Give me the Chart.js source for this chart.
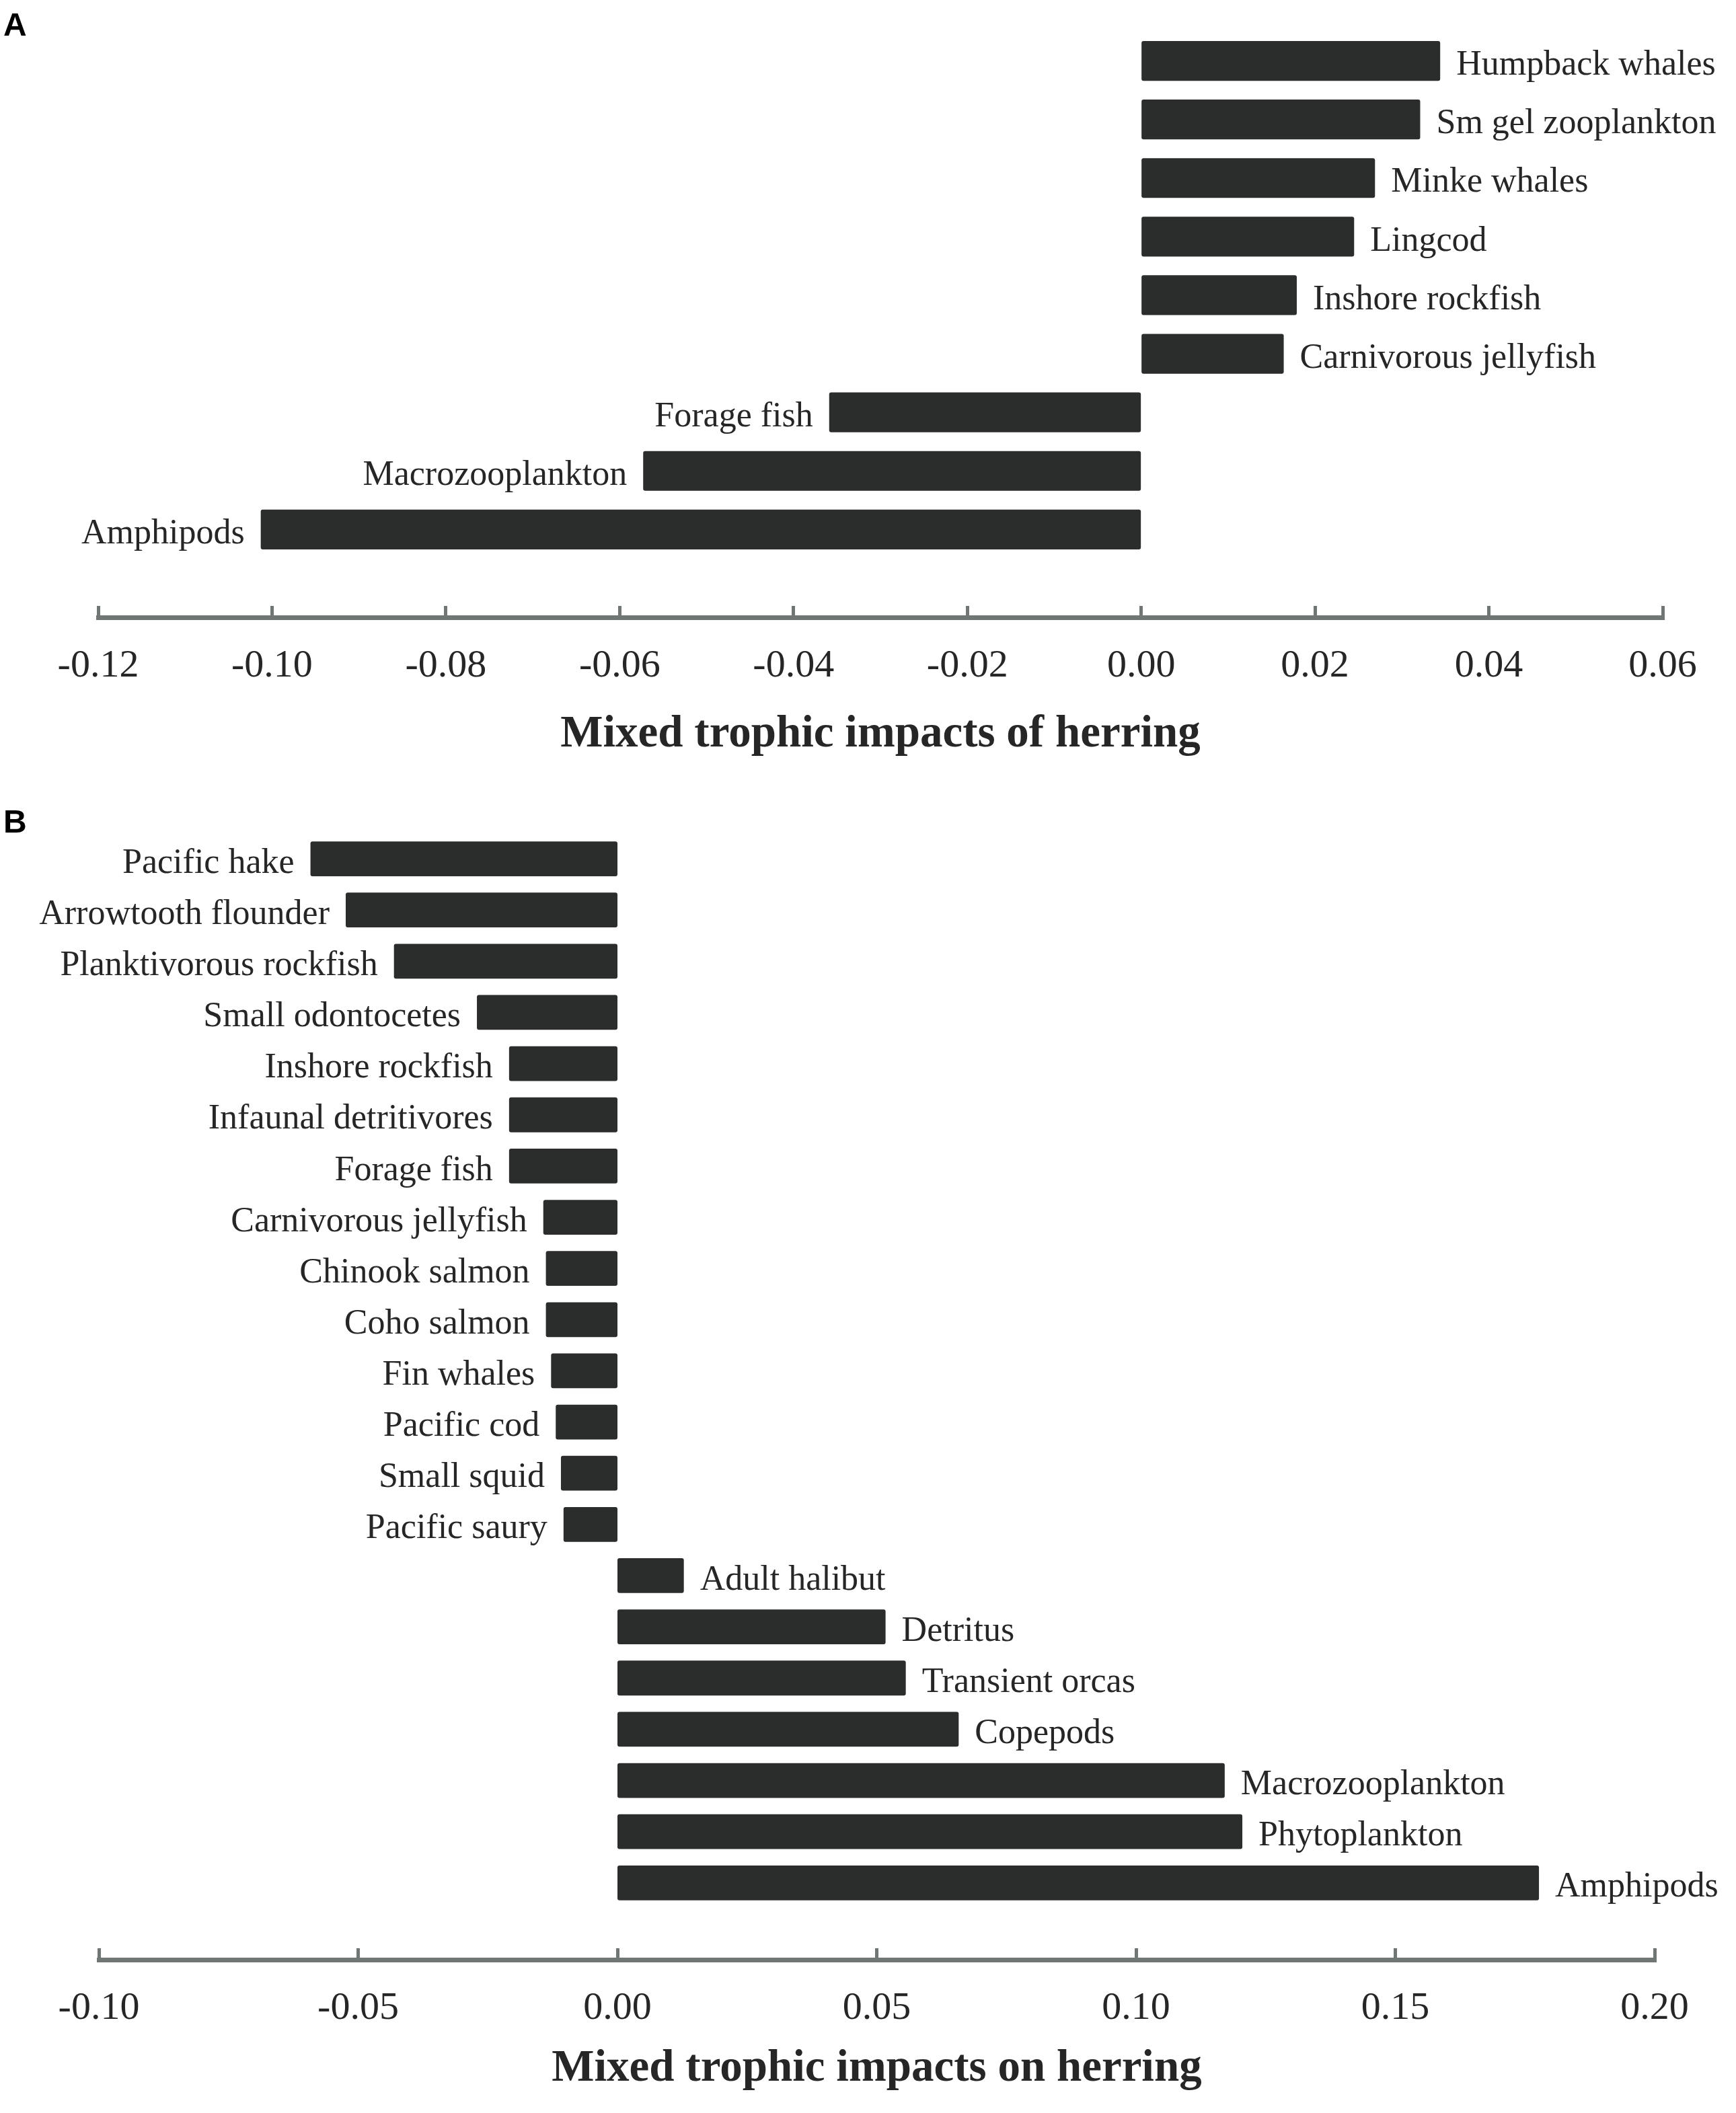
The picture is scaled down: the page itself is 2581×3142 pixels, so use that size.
<!DOCTYPE html>
<html>
<head>
<meta charset="utf-8">
<script src="https://cdn.jsdelivr.net/npm/chart.js@4.4.1/dist/chart.umd.min.js"></script>
<style>
  html, body { margin: 0; padding: 0; background: #fff; }
  #wrap { position: relative; width: 2581px; height: 3142px; }
  canvas { position: absolute; left: 0; }
  #chartA { top: 0; }
  #chartB { top: 1160px; }
</style>
</head>
<body>
<div id="wrap">
  <canvas id="chartA" width="2581" height="1160"></canvas>
  <canvas id="chartB" width="2581" height="1982"></canvas>
</div>
<script>
// Panel A: impacts of herring on other groups
const groupsA = ["Humpback whales", "Sm gel zooplankton", "Minke whales", "Lingcod",
  "Inshore rockfish", "Carnivorous jellyfish", "Forage fish", "Macrozooplankton", "Amphipods"];
const impactsA = [0.0344, 0.0321, 0.0269, 0.0245, 0.0179, 0.0164, -0.0359, -0.0573, -0.1013];
const ticksA = { min: -0.12, max: 0.06, step: 0.02 };

// Panel B: impacts of other groups on herring
const groupsB = ["Pacific hake", "Arrowtooth flounder", "Planktivorous rockfish", "Small odontocetes",
  "Inshore rockfish", "Infaunal detritivores", "Forage fish", "Carnivorous jellyfish",
  "Chinook salmon", "Coho salmon", "Fin whales", "Pacific cod", "Small squid", "Pacific saury",
  "Adult halibut", "Detritus", "Transient orcas", "Copepods", "Macrozooplankton",
  "Phytoplankton", "Amphipods"];
const impactsB = [-0.0592, -0.0524, -0.0431, -0.0271, -0.0209, -0.0209, -0.0209, -0.0143,
  -0.0138, -0.0138, -0.0128, -0.0119, -0.0109, -0.0104,
  0.0128, 0.0517, 0.0556, 0.0658, 0.1171, 0.1205, 0.1777];
const ticksB = { min: -0.10, max: 0.20, step: 0.05 };

const BAR = "#2b2d2d";
const AXIS = "#707674";
const TEXT = "#262626";
const SERIF = "'Liberation Serif', 'Times New Roman', serif";

// writes the group name next to the end of each bar
const barLabels = {
  id: "barLabels",
  afterDatasetsDraw(chart, args, opts) {
    const ctx = chart.ctx;
    const meta = chart.getDatasetMeta(0);
    const values = chart.data.datasets[0].data;
    ctx.save();
    ctx.font = "52px " + SERIF;
    ctx.fillStyle = TEXT;
    ctx.textBaseline = "middle";
    meta.data.forEach((bar, i) => {
      const v = values[i].x;
      const name = opts.names[i];
      if (v >= 0) {
        ctx.textAlign = "left";
        ctx.fillText(name, bar.x + 24, bar.y + 7);
      } else {
        ctx.textAlign = "right";
        ctx.fillText(name, bar.x - 24, bar.y + 7);
      }
    });
    // panel letter
    ctx.font = "bold 48px 'Liberation Sans', Arial, sans-serif";
    ctx.fillStyle = "#000";
    ctx.textAlign = "left";
    ctx.textBaseline = "alphabetic";
    ctx.fillText(opts.letter, 5, opts.letterY);
    ctx.restore();
  }
};

function makeChart(id, names, values, range, title, pad, axisHeight, titlePad, letterY) {
  return new Chart(document.getElementById(id), {
    type: "bar",
    data: {
      datasets: [{
        data: values.map((v, i) => ({ x: v, y: i })),
        backgroundColor: BAR,
        borderRadius: 3,
        borderSkipped: false,
        barPercentage: 0.68,
        categoryPercentage: 1
      }]
    },
    plugins: [barLabels],
    options: {
      indexAxis: "y",
      responsive: false,
      animation: false,
      layout: { padding: pad },
      plugins: {
        legend: { display: false },
        tooltip: { enabled: false },
        barLabels: { names: names, letter: id === "chartA" ? "A" : "B", letterY: letterY }
      },
      scales: {
        y: {
          type: "linear",
          display: false,
          reverse: true,
          offset: false,
          min: -0.5,
          max: names.length + 0.5,
          // one tick per group so the bar width follows the group spacing
          afterBuildTicks: scale => { scale.ticks = names.map((n, i) => ({ value: i })); }
        },
        x: {
          type: "linear",
          min: range.min,
          max: range.max,
          border: { display: true, color: AXIS, width: 7 },
          grid: {
            drawOnChartArea: false,
            drawTicks: true,
            tickLength: -17,
            tickWidth: 5,
            color: AXIS
          },
          ticks: {
            stepSize: range.step,
            padding: 55,
            color: TEXT,
            font: { family: SERIF, size: 58 },
            maxRotation: 0,
            callback: v => Math.abs(v) < 1e-9 ? "0.00" : v.toFixed(2)
          },
          title: {
            display: true,
            text: title,
            color: TEXT,
            font: { family: SERIF, size: 67, weight: "bold" },
            padding: { top: 0, bottom: titlePad }
          },
          afterFit: scale => { scale.height = axisHeight; }
        }
      }
    }
  });
}

makeChart("chartA", groupsA, impactsA, ticksA, "Mixed trophic impacts of herring",
  { left: 146, right: 109, top: 47, bottom: 0 }, 242, 27, 53);
makeChart("chartB", groupsB, impactsB, ticksB, "Mixed trophic impacts on herring",
  { left: 147, right: 121, top: 79, bottom: 0 }, 228, 25, 78);
</script>
</body>
</html>
